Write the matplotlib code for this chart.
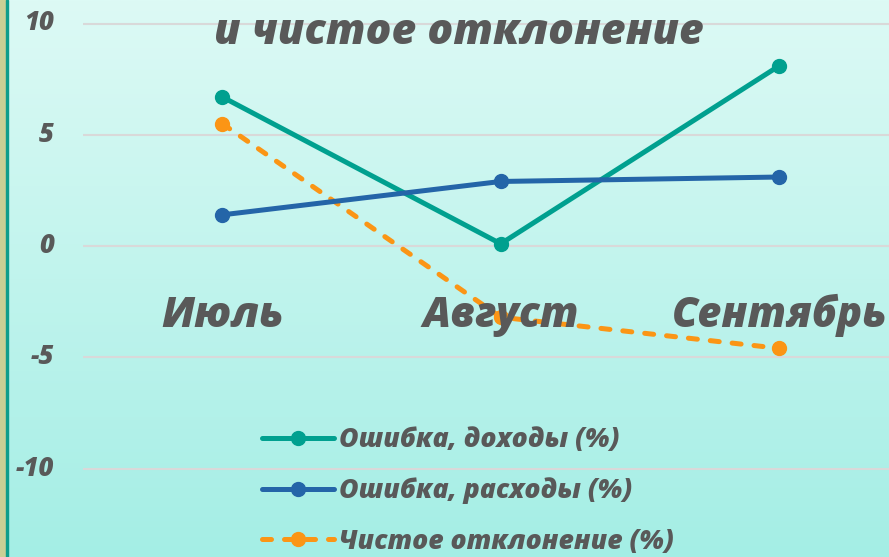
import numpy as np
import matplotlib
matplotlib.use("Agg")
import matplotlib.pyplot as plt
from matplotlib.colors import LinearSegmentedColormap

months = ["Июль", "Август", "Сентябрь"]
err_income = [6.7, 0.1, 8.1]
err_expense = [1.4, 2.9, 3.1]
net_dev = [5.5, -3.2, -4.6]
labels = ["Ошибка, доходы (%)", "Ошибка, расходы (%)", "Чистое отклонение (%)"]
yticks = [-10, -5, 0, 5, 10]
title = "и чистое отклонение"

plt.rcParams["font.family"] = ["Open Sans", "DejaVu Sans"]
txt = "#595959"
wt = 800

W, H = 889, 557
fig = plt.figure(figsize=(W / 100, H / 100), dpi=100)

# background gradient + left strip
bg = fig.add_axes([0, 0, 1, 1], zorder=0)
cmap = LinearSegmentedColormap.from_list("bg", ["#a4eee5", "#ddfaf5"])
bg.imshow(np.linspace(0, 1, 256).reshape(-1, 1), aspect="auto", cmap=cmap,
          origin="lower", extent=[0, 1, 0, 1])
bg.axvspan(0, 6 / W, color="#c9cf95")
bg.axvspan(6 / W, 8 / W, color="#0e9d8c")
bg.set_xlim(0, 1)
bg.set_ylim(0, 1)
bg.axis("off")

# plot area runs past the right edge (cropped like the reference)
ax = fig.add_axes([83 / W, 0, (W - 83) / W, 1], zorder=1)
ax.patch.set_alpha(0)
step = 278.5
ax.set_xlim(-0.5, -0.5 + (W - 83) / step)
ppu = 22.25
ax.set_ylim(-(H - 246) / ppu, 246 / ppu)

x = np.arange(len(months))
ax.plot(x, err_income, color="#00a08f", lw=3.6, marker="o", ms=10,
        solid_capstyle="round", label=labels[0], zorder=3)
ax.plot(x, err_expense, color="#2465a8", lw=3.6, marker="o", ms=10,
        solid_capstyle="round", label=labels[1], zorder=3)
ax.plot(x, net_dev, color="#fb9515", lw=3.6, marker="o", ms=10,
        ls=(0, (1.8, 2.6)), dash_capstyle="round", label=labels[2], zorder=2)

for yt in yticks:
    ax.axhline(yt, color="#d9d9d9", lw=1.5, zorder=1)
    ax.text(-0.5 - 29 / step, yt, f"{yt}", ha="right", va="center",
            fontsize=18.5, fontweight=wt, fontstyle="italic", color=txt,
            clip_on=False)

for i, m in enumerate(months):
    ax.text(i, -3.62, m, ha="center", va="baseline", fontsize=30,
            fontweight=wt, fontstyle="italic", color=txt, zorder=5)

ax.text(-0.5 + (459 - 83) / step, (246 - 44) / ppu, title, ha="center",
        va="baseline", fontsize=30.8, fontweight=wt, fontstyle="italic",
        color=txt, zorder=5)

for s in ax.spines.values():
    s.set_visible(False)
ax.set_xticks([])
ax.set_yticks([])

leg = ax.legend(loc="upper left", bbox_to_anchor=((262 - 83) / (W - 83), (H - 427) / H),
                frameon=False, handlelength=2.7, handletextpad=0.18,
                labelspacing=0.92, borderpad=0, borderaxespad=0,
                prop={"size": 19.2, "weight": wt, "style": "italic"})
for t in leg.get_texts():
    t.set_color(txt)

fig.savefig("out.png", dpi=100)
